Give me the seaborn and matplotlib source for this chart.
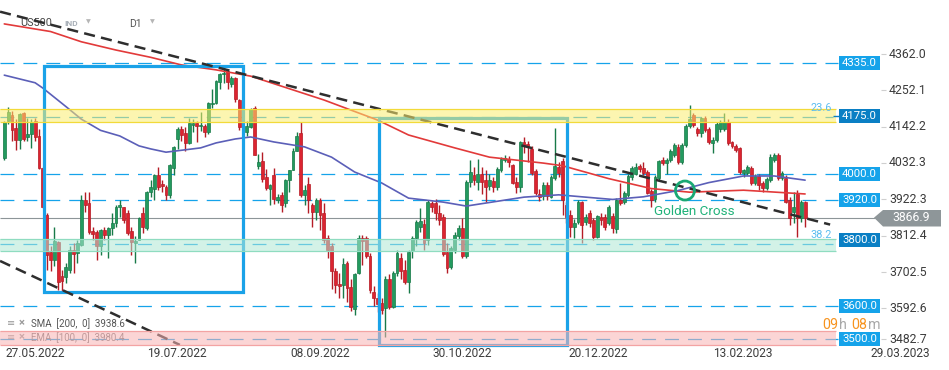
import numpy as np
import matplotlib
matplotlib.use('Agg')
import matplotlib.pyplot as plt
from matplotlib.patches import Rectangle, Ellipse, Polygon
import seaborn as sns

# US500 daily candles, bar 0 = 27.05.2022
opens = [4048, 4160, 4178, 4138, 4102, 4185, 4110, 4120, 4160, 4114,
         4017, 3875, 3762, 3740, 3793, 3690, 3688, 3710, 3768, 3760,
         3785, 3920, 3910, 3828, 3823, 3780, 3830, 3815, 3835, 3850,
         3898, 3898, 3880, 3826, 3790, 3800, 3880, 3835, 3945, 3955,
         3995, 3970, 3960, 3935, 4017, 4105, 4135, 4122, 4093, 4148,
         4153, 4143, 4145, 4125, 4210, 4214, 4278, 4302, 4310, 4272,
         4290, 4223, 4140, 4125, 4142, 4198, 4023, 4038, 3990, 3955,
         3995, 3920, 3935, 3910, 3980, 4012, 4070, 4123, 3935, 3970,
         3905, 3885, 3920, 3880, 3805, 3780, 3705, 3665, 3663, 3730,
         3658, 3590, 3700, 3805, 3805, 3750, 3643, 3625, 3610, 3595,
         3680, 3598, 3700, 3745, 3710, 3672, 3765, 3805, 3838, 3848,
         3800, 3912, 3910, 3880, 3868, 3763, 3717, 3770, 3810, 3835,
         3750, 3975, 3995, 3975, 4000, 3982, 3962, 3978, 3960, 4010,
         4042, 4045, 4025, 3975, 3960, 4097, 4090, 4075, 4008, 3940,
         3932, 3966, 3930, 3986, 4021, 4039, 3905, 3875, 3840, 3855,
         3913, 3855, 3880, 3860, 3809, 3870, 3870, 3850, 3872, 3832,
         3920, 3915, 3935, 3989, 4000, 4023, 4016, 4006, 3948, 3922,
         3986, 4041, 4031, 4041, 4057, 4082, 4036, 4087, 4144, 4178,
         4134, 4122, 4167, 4134, 4094, 4102, 4134, 4134, 4157, 4095,
         4084, 4077, 4003, 4003, 4016, 3973, 3993, 3971, 3956, 3981,
         4041, 4056, 3986, 3986, 3920, 3885, 3940, 3865, 3915]
highs = [4160, 4202, 4190, 4166, 4185, 4188, 4168, 4165, 4168, 4136,
         4020, 3880, 3780, 3840, 3795, 3710, 3730, 3780, 3790, 3800,
         3935, 3945, 3945, 3840, 3830, 3832, 3838, 3840, 3880, 3905,
         3920, 3900, 3890, 3840, 3810, 3868, 3900, 3948, 3980, 4000,
         4020, 3980, 3965, 4030, 4085, 4140, 4145, 4140, 4168, 4165,
         4160, 4188, 4150, 4218, 4257, 4282, 4305, 4325, 4312, 4295,
         4292, 4225, 4155, 4160, 4200, 4205, 4060, 4065, 4015, 3970,
         4018, 3938, 3945, 3985, 4012, 4078, 4125, 4157, 3965, 3990,
         3910, 3925, 3925, 3910, 3815, 3790, 3715, 3700, 3745, 3735,
         3680, 3700, 3815, 3815, 3812, 3760, 3660, 3640, 3625, 3690,
         3695, 3705, 3770, 3760, 3740, 3768, 3812, 3860, 3895, 3862,
         3920, 3918, 3922, 3905, 3878, 3790, 3780, 3825, 3845, 3866,
         3980, 4040, 4020, 4045, 4020, 4010, 4000, 3990, 4020, 4050,
         4055, 4052, 4030, 3990, 4100, 4110, 4098, 4085, 4015, 3955,
         3975, 3975, 3995, 4137, 4035, 4048, 3915, 3890, 3862, 3920,
         3918, 3878, 3890, 3866, 3876, 3880, 3878, 3905, 3880, 3925,
         3971, 3948, 3998, 4022, 4032, 4030, 4035, 4012, 3955, 3995,
         4042, 4050, 4048, 4075, 4092, 4090, 4092, 4150, 4208, 4185,
         4140, 4170, 4175, 4140, 4110, 4155, 4162, 4183, 4165, 4100,
         4090, 4082, 4015, 4025, 4022, 3998, 4000, 3978, 3990, 4060,
         4062, 4062, 4008, 3995, 3928, 3945, 3950, 3920, 3918]
lows = [4040, 4150, 4100, 4072, 4075, 4098, 4100, 4078, 4100, 4015,
        3895, 3710, 3705, 3720, 3648, 3640, 3670, 3700, 3700, 3730,
        3780, 3885, 3818, 3800, 3740, 3755, 3800, 3745, 3815, 3840,
        3870, 3850, 3815, 3754, 3730, 3798, 3820, 3830, 3930, 3920,
        3950, 3945, 3920, 3925, 3995, 4075, 4100, 4070, 4090, 4125,
        4095, 4130, 4110, 4120, 4200, 4210, 4255, 4275, 4255, 4262,
        4218, 4133, 4120, 4115, 4138, 4055, 4015, 3975, 3952, 3905,
        3908, 3912, 3885, 3900, 3945, 4010, 4068, 3930, 3905, 3880,
        3840, 3860, 3830, 3790, 3745, 3650, 3640, 3625, 3625, 3612,
        3585, 3572, 3698, 3725, 3745, 3640, 3600, 3582, 3575, 3505,
        3590, 3595, 3690, 3680, 3665, 3640, 3745, 3780, 3825, 3770,
        3785, 3885, 3860, 3845, 3750, 3700, 3712, 3760, 3800, 3745,
        3745, 3960, 3965, 3950, 3940, 3915, 3950, 3945, 3952, 4005,
        4035, 4020, 3968, 3942, 3945, 4062, 4035, 3995, 3935, 3918,
        3920, 3920, 3925, 3980, 3990, 3875, 3850, 3809, 3804, 3848,
        3789, 3845, 3840, 3800, 3805, 3845, 3830, 3845, 3820, 3820,
        3905, 3908, 3930, 3982, 3995, 4005, 3995, 3938, 3900, 3915,
        3980, 4025, 4000, 4035, 4050, 4030, 4030, 4080, 4138, 4140,
        4115, 4110, 4125, 4090, 4062, 4095, 4125, 4128, 4088, 4078,
        4065, 4000, 3990, 3995, 3965, 3965, 3950, 3945, 3950, 3975,
        4035, 3980, 3980, 3910, 3845, 3850, 3809, 3855, 3838]
closes = [4157, 4188, 4132, 4102, 4180, 4105, 4120, 4155, 4111, 4017,
          3900, 3754, 3740, 3795, 3672, 3676, 3718, 3770, 3758, 3790,
          3920, 3905, 3823, 3818, 3780, 3830, 3815, 3835, 3852, 3900,
          3905, 3860, 3820, 3793, 3795, 3865, 3838, 3945, 3960, 3995,
          3960, 3962, 3935, 4025, 4081, 4135, 4118, 4093, 4153, 4152,
          4143, 4148, 4125, 4214, 4215, 4280, 4303, 4306, 4276, 4288,
          4226, 4141, 4128, 4145, 4196, 4056, 4035, 3983, 3958, 3967,
          3922, 3930, 3906, 3980, 4010, 4070, 4115, 3935, 3950, 3920,
          3885, 3920, 3875, 3800, 3770, 3705, 3663, 3660, 3728, 3655,
          3597, 3695, 3805, 3795, 3750, 3648, 3625, 3605, 3588, 3680,
          3597, 3700, 3760, 3705, 3672, 3764, 3805, 3855, 3856, 3790,
          3915, 3900, 3880, 3860, 3757, 3715, 3775, 3815, 3835, 3750,
          3975, 4005, 3980, 4000, 3975, 3960, 3980, 3960, 4015, 4045,
          4048, 4035, 3972, 3960, 4095, 4085, 4085, 4002, 3942, 3930,
          3966, 3932, 3989, 4023, 4001, 3920, 3868, 3840, 3852, 3913,
          3845, 3870, 3852, 3809, 3872, 3860, 3840, 3898, 3835, 3920,
          3910, 3941, 3993, 4016, 4021, 4013, 4001, 3943, 3920, 3989,
          4039, 4031, 4041, 4070, 4087, 4036, 4087, 4144, 4164, 4147,
          4122, 4167, 4132, 4097, 4102, 4149, 4157, 4157, 4092, 4084,
          4072, 4006, 4011, 4019, 3973, 3993, 3966, 3956, 3983, 4051,
          4056, 3986, 4001, 3915, 3865, 3898, 3865, 3915, 3866.9]

# moving averages, sampled along the lines
sma200_bar = [0, 12, 20, 29, 38, 46, 55, 64, 83, 97, 105, 117, 126,
              140, 145, 157, 168, 178, 192, 208]
sma200_val = [4453, 4430, 4399, 4374, 4352, 4329, 4314, 4295, 4223, 4162,
              4117, 4078, 4050, 4032, 4024, 3985, 3955, 3944, 3950, 3938.6]
ema100_bar = [0, 8, 10, 16, 20, 25, 30, 35, 38, 42, 51, 55, 60, 64, 70,
              78, 85, 91, 98, 105, 114, 120, 125, 135, 144, 158, 166,
              175, 183, 192, 200, 208]
ema100_val = [4298, 4275, 4259, 4203, 4165, 4131, 4114, 4084, 4075, 4065,
              4078, 4093, 4105, 4111, 4096, 4081, 4050, 4005, 3972, 3926,
              3914, 3902, 3911, 3929, 3936, 3922, 3930, 3949, 3973, 3993,
              3993, 3980.4]

level_prices = [4335.0, 4175.0, 4000.0, 3920.0, 3800.0, 3600.0, 3500.0]
dark_levels = [4175.0, 3800.0]
axis_ticks = [4362.0, 4252.1, 4142.2, 4032.3, 3922.3, 3812.4, 3702.5, 3592.6, 3482.7]
date_labels = ['27.05.2022', '19.07.2022', '08.09.2022', '30.10.2022',
               '20.12.2022', '13.02.2023']
date_bars = [0, 37, 74, 111, 146.4, 184]
last_price = 3866.9

fib_names = ['23.6', '38.2']
fib_prices = [4171.0, 3787.0]
yellow_zone = (4157, 4196)
teal_zone = (3767, 3802)
red_zone = (3482, 3524)

trend_a_bar = [-1.1, 214.5]
trend_a_val = [4490, 3846]
trend_b_bar = [-1.1, 45.6]
trend_b_val = [3736, 3482]
box_a = (10.2, 62.1, 3642, 4327)
box_b = (97.3, 146.2, 3483, 4167)
cross_bar, cross_val = 176.8, 3949

# screen mapping (axes fill the whole figure)
X0, DX = 4.3, 3.85
Y0, P0, PPX = 54.0, 4362.0, 3.025


def px(v):
    return (v - X0) / DX


def py(v):
    return P0 - (v - Y0) * PPX


sns.set_theme(style='white')
plt.rcParams['font.family'] = ['Roboto', 'DejaVu Sans']
plt.rcParams['lines.scale_dashes'] = False

fig = plt.figure(figsize=(9.49, 3.70), dpi=100)
ax = fig.add_axes([0, 0, 1, 1])
ax.set_xlim(px(0), px(949))
ax.set_ylim(py(370), py(0))
ax.axis('off')

BLUE = '#15a3ea'
DARK_BLUE = '#0a7fc4'
right_end = px(838)

# horizontal levels
plain = [p for p in level_prices if p not in dark_levels]
ax.hlines(plain, px(0), right_end, colors=BLUE, lw=0.9,
          linestyles=(0, (10, 6.5)), zorder=1)
ax.hlines(fib_prices, px(0), px(833), colors=BLUE, lw=0.9,
          linestyles=(0, (10, 6.5)), zorder=1)
ax.hlines(last_price, px(0), px(875), colors='#8d9598', lw=0.8, zorder=1)

# candles
o = np.array(opens, float)
h = np.array(highs, float)
l = np.array(lows, float)
c = np.array(closes, float)
x = np.arange(len(c))
up = c >= o
body_col = np.where(up, '#239a5f', '#dc2430')
edge_col = np.where(up, '#187a48', '#b51c26')
ax.vlines(x, l, h, colors=edge_col, lw=1.0, zorder=2)
ax.bar(x, np.maximum(np.abs(c - o), 2.5), bottom=np.minimum(o, c), width=0.74,
       color=body_col, edgecolor=edge_col, linewidth=0.5, zorder=2.1)

# moving averages
sns.lineplot(x=sma200_bar, y=sma200_val, ax=ax, color='#e23a3a', lw=1.2,
             sort=False, estimator=None, zorder=3)
sns.lineplot(x=ema100_bar, y=ema100_val, ax=ax, color='#5b5fb8', lw=1.2,
             sort=False, estimator=None, zorder=3)

# drawn boxes and trend lines
for b0, b1, v0, v1 in [box_a, box_b]:
    ax.add_patch(Rectangle((b0, v0), b1 - b0, v1 - v0, fill=False,
                           edgecolor='#1aa2e8', lw=2.3, zorder=4))
ax.plot(trend_a_bar, trend_a_val, color='#2e2e2e', lw=1.8, dashes=(8, 4.5), zorder=5)
ax.plot(trend_b_bar, trend_b_val, color='#2e2e2e', lw=1.8, dashes=(8, 4.5), zorder=5)

# legend entries (EMA line sits under the red zone)
ax.text(px(7), py(323.5), '≡', color='#9a9a9a', fontsize=7, va='center', zorder=6)
ax.text(px(19), py(323.5), '×', color='#9a9a9a', fontsize=8, va='center',
        fontweight='bold', zorder=6)
ax.text(px(31), py(323.5), 'SMA  [200,  0]  3938.6', color='#555555',
        fontsize=7, va='center', zorder=6)
ax.text(px(7), py(337.5), '≡', color='#9a9a9a', fontsize=7, va='center', zorder=5)
ax.text(px(19), py(337.5), '×', color='#9a9a9a', fontsize=8, va='center',
        fontweight='bold', zorder=5)
ax.text(px(31), py(337.5), 'EMA  [100,  0]  3980.4', color='#777777',
        fontsize=7, va='center', zorder=5)

# zones, drawn over everything else with transparency
zone_end = [px(0), px(836)]
for (lo, hi), fc, ec in [(yellow_zone, '#fbed6f', '#f2da3a'),
                         (teal_zone, '#afe9d5', '#8fdcc0'),
                         (red_zone, '#f9b4b4', '#f3a3a3')]:
    ax.fill_between(zone_end, lo, hi, color=fc, alpha=0.55, lw=0, zorder=6)
    ax.hlines([lo, hi], zone_end[0], zone_end[1], colors=ec, lw=0.9, zorder=6)

# golden cross
ax.add_patch(Ellipse((cross_bar, cross_val), 2 * 9.5 / DX, 2 * 9.5 * PPX,
                     fill=False, edgecolor='#1aa874', lw=2, zorder=7))
ax.text(px(694), py(212), 'Golden Cross', color='#20b27a', fontsize=9.7,
        ha='center', va='center', zorder=7)

# fib labels, just above their lines
for name, val in zip(fib_names, fib_prices):
    ax.text(px(821), val + 9 * PPX, name, color='#5bbdf0', fontsize=7.8,
            ha='center', va='center', zorder=7)

# price boxes on the right
ax.hlines(4175.0, px(833), px(839), colors=DARK_BLUE, lw=1, zorder=7)
for lv in level_prices:
    fc = DARK_BLUE if lv in dark_levels else BLUE
    ax.add_patch(Rectangle((px(839), lv - 7 * PPX), 41 / DX, 14 * PPX,
                           facecolor=fc, edgecolor='none', zorder=8))
    ax.text(px(859.5), lv, f'{lv:.1f}', color='white', fontsize=8.2,
            ha='center', va='center', zorder=9)

# y axis labels (the lowest one is pushed up clear of the date)
for t in axis_ticks:
    ty = py(339.5) if t == axis_ticks[-1] else t
    ax.hlines(ty, px(881), px(886), colors='#cfcfcf', lw=0.8, zorder=8)
    ax.text(px(889), ty, f'{t:.1f}', color='#3c3c3c', fontsize=8.8,
            ha='left', va='center', zorder=8)

# current price tag
tag = [(px(874), last_price), (px(883), py(210)), (px(941), py(210)),
       (px(941), py(226.5)), (px(883), py(226.5))]
ax.add_patch(Polygon(tag, closed=True, facecolor='#8e9699', edgecolor='none', zorder=9))
ax.text(px(911), last_price, f'{last_price:.1f}', color='white', fontsize=8.8,
        ha='center', va='center', zorder=10)

# x axis dates
for lab, b in zip(date_labels, date_bars):
    ax.text(b + 0.2, py(353.5), lab, color='#3c3c3c', fontsize=8.6,
            ha='left', va='center', zorder=8)
ax.text(px(900), py(353.5), '29.03.2023', color='#3c3c3c', fontsize=8.6,
        ha='center', va='center', zorder=8)

# candle timer
for s, xx, col in [('09', 822.5, '#f7931e'), ('h', 839.5, '#a8a8a8'),
                   ('08', 851.5, '#f7931e'), ('m', 867.5, '#a8a8a8')]:
    ax.text(px(xx), py(325), s, color=col, fontsize=10.3, ha='left',
            va='center', zorder=9)

# header
ax.text(px(20), py(23), 'US500', color='#454545', fontsize=7.8,
        ha='left', va='center', zorder=4)
ax.text(px(64), py(24), 'IND', color='#a9b0b8', fontsize=6, fontweight='bold',
        ha='left', va='center', zorder=4)
ax.text(px(88), py(21.5), '▼', color='#b5b5b5', fontsize=4.5,
        ha='center', va='center', zorder=4)
ax.text(px(129), py(24), 'D1', color='#555555', fontsize=7.5,
        ha='left', va='center', zorder=4)
ax.text(px(152), py(21.5), '▼', color='#b5b5b5', fontsize=4.5,
        ha='center', va='center', zorder=4)

fig.savefig('out.png', dpi=100)
